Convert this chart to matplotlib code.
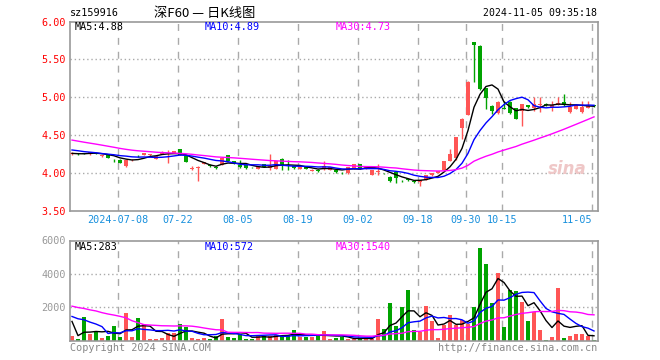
import numpy as np
import pandas as pd
import matplotlib
matplotlib.use("Agg")
import matplotlib.pyplot as plt

# daily bars 2024-06-26 .. 2024-11-05 (88 sessions)
open_ = [4.25, 4.265, 4.26, 4.25, 4.265, 4.22, 4.24, 4.185, 4.175, 4.09,
         4.17, 4.23, 4.245, 4.235, 4.19, 4.255, 4.265, 4.265, 4.315, 4.22,
         4.06, 4.07, 4.12, 4.11, 4.085, 4.11, 4.24, 4.16, 4.11, 4.11,
         4.08, 4.057, 4.12, 4.066, 4.057, 4.19, 4.105, 4.088, 4.053, 4.075,
         4.031, 4.044, 4.05, 4.04, 4.044, 4.005, 3.996, 4.057, 4.12, 4.057,
         3.98, 4.02, 4.0, 3.955, 4.02, 3.90, 3.915, 3.90, 3.88, 3.912,
         3.97, 4.0, 4.04, 4.16, 4.20, 4.60, 4.765, 5.73, 5.68, 5.118,
         4.889, 4.791, 4.855, 4.933, 4.853, 4.822, 4.902, 4.853, 4.905, 4.905,
         4.866, 4.905, 4.933, 4.80, 4.85, 4.80, 4.86, 4.895]
high = [4.28, 4.27, 4.27, 4.28, 4.27, 4.245, 4.245, 4.19, 4.18, 4.18,
        4.18, 4.245, 4.27, 4.255, 4.225, 4.29, 4.305, 4.29, 4.32, 4.225,
        4.09, 4.09, 4.15, 4.115, 4.09, 4.205, 4.245, 4.165, 4.175, 4.12,
        4.085, 4.09, 4.125, 4.25, 4.16, 4.195, 4.175, 4.09, 4.08, 4.08,
        4.05, 4.05, 4.16, 4.08, 4.05, 4.01, 4.08, 4.125, 4.125, 4.095,
        4.045, 4.12, 4.005, 3.96, 4.025, 3.91, 3.92, 3.905, 3.915, 3.98,
        4.005, 4.03, 4.165, 4.314, 4.475, 4.73, 5.21, 5.73, 5.69, 5.12,
        4.895, 4.955, 4.95, 4.955, 4.86, 4.915, 4.905, 4.999, 4.999, 4.92,
        4.955, 4.999, 5.043, 4.933, 4.91, 4.955, 4.955, 4.90]
low = [4.24, 4.245, 4.25, 4.245, 4.25, 4.215, 4.195, 4.15, 4.13, 4.085,
       4.165, 4.21, 4.24, 4.23, 4.185, 4.25, 4.135, 4.26, 4.24, 4.14,
       4.04, 3.89, 4.115, 4.085, 4.06, 4.105, 4.16, 4.12, 4.07, 4.06,
       4.065, 4.05, 4.08, 4.044, 4.05, 4.044, 4.045, 4.06, 4.05, 4.055,
       4.025, 4.02, 4.045, 4.035, 4.005, 3.99, 3.99, 4.05, 4.05, 4.05,
       3.975, 3.98, 3.985, 3.88, 3.875, 3.885, 3.90, 3.87, 3.836, 3.905,
       3.965, 3.995, 4.035, 4.155, 4.17, 4.447, 4.76, 5.20, 5.10, 4.844,
       4.778, 4.785, 4.84, 4.785, 4.715, 4.623, 4.86, 4.822, 4.80, 4.88,
       4.822, 4.90, 4.88, 4.795, 4.845, 4.795, 4.855, 4.875]
close = [4.27, 4.26, 4.255, 4.275, 4.255, 4.235, 4.20, 4.18, 4.135, 4.175,
         4.175, 4.225, 4.27, 4.25, 4.22, 4.26, 4.27, 4.285, 4.245, 4.15,
         4.07, 4.085, 4.145, 4.09, 4.065, 4.20, 4.165, 4.13, 4.075, 4.065,
         4.075, 4.084, 4.085, 4.093, 4.155, 4.11, 4.10, 4.066, 4.075, 4.06,
         4.044, 4.022, 4.10, 4.075, 4.01, 4.0, 4.075, 4.12, 4.057, 4.088,
         4.04, 4.025, 3.995, 3.90, 3.935, 3.895, 3.91, 3.876, 3.91, 3.978,
         4.0, 4.022, 4.16, 4.256, 4.47, 4.72, 5.207, 5.69, 5.11, 4.986,
         4.822, 4.933, 4.845, 4.791, 4.72, 4.911, 4.866, 4.911, 4.91, 4.90,
         4.90, 4.93, 4.90, 4.87, 4.90, 4.87, 4.89, 4.88]
volume = [260, 120, 1400, 390, 540, 150, 270, 870, 210, 1650,
          220, 1350, 1000, 100, 100, 150, 450, 450, 980, 820,
          150, 100, 150, 100, 250, 1290, 230, 150, 400, 100,
          100, 260, 270, 270, 330, 330, 330, 620, 200, 230,
          200, 360, 560, 100, 140, 200, 80, 80, 100, 180,
          100, 1290, 680, 2260, 900, 2000, 3060, 660, 500, 2100,
          1200, 180, 960, 1560, 960, 1240, 1000, 2040, 5580, 4620,
          2280, 4080, 840, 3060, 3000, 2340, 1200, 1740, 660, 45,
          240, 3180, 180, 280, 380, 420, 280, 55]

# sessions before the window, only feed the moving averages
pre_close = [4.68, 4.67, 4.66, 4.64, 4.64, 4.62, 4.60, 4.58,
             4.55, 4.50, 4.47, 4.45, 4.42, 4.43, 4.40, 4.38, 4.39, 4.36,
             4.30, 4.28,
             4.36, 4.37, 4.35, 4.33, 4.34,
             4.28, 4.26, 4.25, 4.24]
pre_volume = [2600, 3100, 2900, 2500, 3200, 2700, 2800, 2500,
              4200, 5600, 4800, 4500,
              900, 700, 800, 600, 750, 700, 850, 700,
              1500, 2000, 1800, 1700, 1700,
              4380, 380, 350, 350]

tick_pos = [8, 18, 28, 38, 48, 58, 66, 72, 87]
tick_labels = ["2024-07-08", "07-22", "08-05", "08-19", "09-02",
               "09-18", "09-30", "10-15", "11-05"]

price_ma_text = ["MA5:4.88", "MA10:4.89", "MA30:4.73"]
vol_ma_text = ["MA5:283", "MA10:572", "MA30:1540"]

RED = "#ff5555"
GREEN = "#00a300"
GRID = "#aaaaaa"
MONO = "DejaVu Sans Mono"
ma_colors = ["black", "#0000ff", "#ff00ff"]

n = len(close)
x = np.arange(n)
o = np.array(open_)
c = np.array(close)
colors = np.where(c >= o, RED, GREEN)

cs = pd.Series(pre_close + close)
vs = pd.Series(pre_volume + volume)
k = len(pre_close)
price_ma = [cs.rolling(w).mean().values[k:] for w in (5, 10, 30)]
vol_ma = [vs.rolling(w).mean().values[k:] for w in (5, 10, 30)]

W, H = 660, 360
fig = plt.figure(figsize=(6.6, 3.6), dpi=100)
left, right = 70.3, 597.5
ax = fig.add_axes([left / W, 1 - 211 / H, (right - left) / W, 189.5 / H])
axv = fig.add_axes([left / W, 1 - 340.5 / H, (right - left) / W, 100 / H])

for a in (ax, axv):
    a.set_xlim((left - 72) / 6, (right - 72) / 6)
    for s in a.spines.values():
        s.set_color("#999999")
        s.set_linewidth(1.2)
    a.tick_params(length=0)
    a.set_xticks([])
    for t in tick_pos:
        a.axvline(t - 0.33, color=GRID, lw=1, ls=(0, (5, 5)), zorder=0)

# price panel
ax.set_ylim(3.5, 6.0)
for yv in (4.0, 4.5, 5.0, 5.5):
    ax.axhline(yv, color=GRID, lw=1, ls=(0, (1, 2)), zorder=0)
ax.vlines(x, low, high, colors=colors, lw=1, zorder=2)
body = np.maximum(np.abs(c - o), 0.006)
ax.bar(x, body, bottom=np.minimum(o, c), width=0.78, color=colors, lw=0, zorder=3)
for ma, col in zip(price_ma, ma_colors):
    ax.plot(x, ma, color=col, lw=1, zorder=4)
ax.set_yticks([3.5, 4.0, 4.5, 5.0, 5.5, 6.0])
ax.set_yticklabels(["3.50", "4.00", "4.50", "5.00", "5.50", "6.00"],
                   color="red", family=MONO, fontsize=7.3)
ax.tick_params(axis="y", pad=3)

for lbl, t in zip(tick_labels, tick_pos):
    ha = "right" if t == tick_pos[-1] else "center"
    ax.text(t - 0.33 + (0.1 if ha == "right" else 0), 3.5 - 0.12, lbl,
            ha=ha, va="center", color="#1890dd", family=MONO, fontsize=7.3)

# faint watermark
ax.text(82.5, 4.05, "sina", color="#efc7c7", fontsize=12, style="italic",
        fontweight="bold", ha="center", va="center", zorder=1)

# volume panel
axv.set_ylim(0, 6000)
for yv in (2000, 4000):
    axv.axhline(yv, color=GRID, lw=1, ls=(0, (1, 2)), zorder=0)
axv.bar(x, volume, width=0.8, color=colors, lw=0, zorder=2)
for ma, col in zip(vol_ma, ma_colors):
    axv.plot(x, ma, color=col, lw=1, zorder=3)
axv.set_yticks([2000, 4000, 6000])
axv.set_yticklabels(["2000", "4000", "6000"], color="#999999",
                    family=MONO, fontsize=7.3)
axv.tick_params(axis="y", pad=3)

# header and footers
fig.text(70 / W, 1 - 13 / H, "sz159916", family=MONO, fontsize=7.3,
         va="center", ha="left")
fig.text(205 / W, 1 - 13 / H, "深F60 — 日K线图",
         family=["Noto Sans CJK SC", "DejaVu Sans"], fontsize=9.5,
         va="center", ha="center")
fig.text(597 / W, 1 - 13 / H, "2024-11-05 09:35:18", family=MONO,
         fontsize=7.1, va="center", ha="right")

ma_x = [75, 205, 336]
for txt, xp, col in zip(price_ma_text, ma_x, ma_colors):
    fig.text(xp / W, 1 - 27.5 / H, txt, color=col, family=MONO,
             fontsize=7.3, va="center", ha="left")
for txt, xp, col in zip(vol_ma_text, ma_x, ma_colors):
    fig.text(xp / W, 1 - 246.5 / H, txt, color=col, family=MONO,
             fontsize=7.3, va="center", ha="left")

fig.text(70 / W, 1 - 348 / H, "Copyright 2024 SINA.COM", color="#888888",
         family=MONO, fontsize=7.3, va="center", ha="left")
fig.text(597 / W, 1 - 348 / H, "http://finance.sina.com.cn", color="#888888",
         family=MONO, fontsize=7.3, va="center", ha="right")

fig.savefig("out.png", dpi=100)
